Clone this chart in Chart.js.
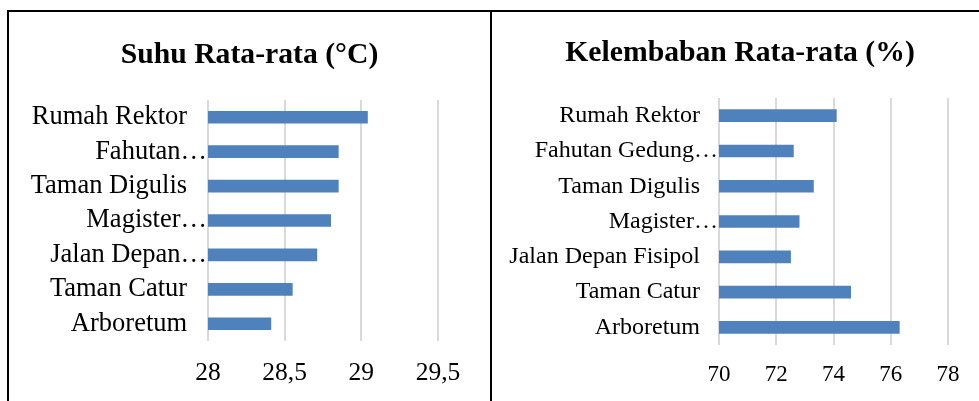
<!DOCTYPE html>
<html>
<head>
<meta charset="utf-8">
<script src="https://cdn.jsdelivr.net/npm/chart.js@4"></script>
<style>
  body { margin: 0; background: #fff; overflow: hidden; width: 979px; height: 401px; position: relative; }
  .line { position: absolute; background: #000; }
  canvas { position: absolute; }
</style>
</head>
<body>
<div class="line" style="left:7px; top:10px; width:972px; height:2px;"></div>
<div class="line" style="left:7px; top:10px; width:2px; height:391px;"></div>
<div class="line" style="left:490px; top:10px; width:2px; height:391px;"></div>
<canvas id="suhuChart" width="479" height="388" style="left:10px; top:13px; width:479px; height:388px;"></canvas>
<canvas id="lembabChart" width="494" height="388" style="left:493px; top:13px; width:494px; height:388px;"></canvas>
<script>
// data
const suhuLabels = ['Rumah Rektor', 'Fahutan…', 'Taman Digulis', 'Magister…', 'Jalan Depan…', 'Taman Catur', 'Arboretum'];
const suhuValues = [29.04, 28.85, 28.85, 28.80, 28.71, 28.55, 28.41];
const suhuTicks = [28, 28.5, 29, 29.5];

const lembabLabels = ['Rumah Rektor', 'Fahutan Gedung…', 'Taman Digulis', 'Magister…', 'Jalan Depan Fisipol', 'Taman Catur', 'Arboretum'];
const lembabValues = [74.1, 72.6, 73.3, 72.8, 72.5, 74.6, 76.3];
const lembabTicks = [70, 72, 74, 76, 78];

const barColor = '#4f81bd';
const fontFamily = '"Liberation Serif", "Times New Roman", serif';

// title centred on the whole canvas, not on the area left after right padding
const centerTitle = {
    id: 'centerTitle',
    afterLayout(chart) {
        if (chart.titleBlock) {
            chart.titleBlock.left = 0;
            chart.titleBlock.right = chart.width;
            chart.titleBlock.width = chart.width;
        }
    }
};

function makeChart(id, opt) {
    const ctx = document.getElementById(id).getContext('2d');
    return new Chart(ctx, {
        type: 'bar',
        data: {
            labels: opt.labels,
            datasets: [{
                data: opt.values,
                backgroundColor: barColor,
                borderWidth: 0,
                barThickness: 12
            }]
        },
        plugins: [centerTitle],
        options: {
            indexAxis: 'y',
            responsive: false,
            animation: false,
            layout: { padding: { left: 0, right: opt.padRight, top: 0, bottom: 0 } },
            plugins: {
                legend: { display: false },
                tooltip: { enabled: false },
                title: {
                    display: true,
                    text: opt.title,
                    color: '#000',
                    font: { family: fontFamily, size: 29.7, weight: 'bold', lineHeight: 1.2 },
                    padding: { top: opt.titleTop, bottom: opt.titleBottom }
                }
            },
            scales: {
                x: {
                    min: opt.ticks[0],
                    max: opt.ticks[opt.ticks.length - 1],
                    afterBuildTicks: s => { s.ticks = opt.ticks.map(v => ({ value: v })); },
                    afterFit: s => { s.height = opt.xHeight; },
                    grid: { color: '#d9d9d9', lineWidth: 2, drawTicks: false },
                    border: { display: false },
                    ticks: {
                        color: '#000',
                        padding: opt.xPad,
                        font: { family: fontFamily, size: opt.xFont },
                        callback: v => String(v).replace('.', ',')
                    }
                },
                y: {
                    afterFit: s => { s.width = opt.yWidth; },
                    grid: { display: false, drawTicks: false },
                    border: { display: false },
                    ticks: {
                        autoSkip: false,
                        color: '#000',
                        padding: 1,
                        font: { family: fontFamily, size: opt.yFont },
                        // Excel puts the ellipsis right against the axis, full labels sit a little away
                        callback: function (v) {
                            const lbl = this.getLabelForValue(v);
                            return lbl.endsWith('…') ? lbl : lbl + '   ';
                        }
                    }
                }
            }
        }
    });
}

makeChart('suhuChart', {
    labels: suhuLabels, values: suhuValues, ticks: suhuTicks,
    title: 'Suhu Rata-rata (°C)',
    titleTop: 24.2, titleBottom: 27.2,
    padRight: 51, yWidth: 198, xHeight: 60, xPad: 17,
    xFont: 25.5, yFont: 26.5
});

makeChart('lembabChart', {
    labels: lembabLabels, values: lembabValues, ticks: lembabTicks,
    title: 'Kelembaban Rata-rata (%)',
    titleTop: 22.2, titleBottom: 27.2,
    padRight: 39, yWidth: 226, xHeight: 56, xPad: 16,
    xFont: 23, yFont: 24
});
</script>
</body>
</html>
